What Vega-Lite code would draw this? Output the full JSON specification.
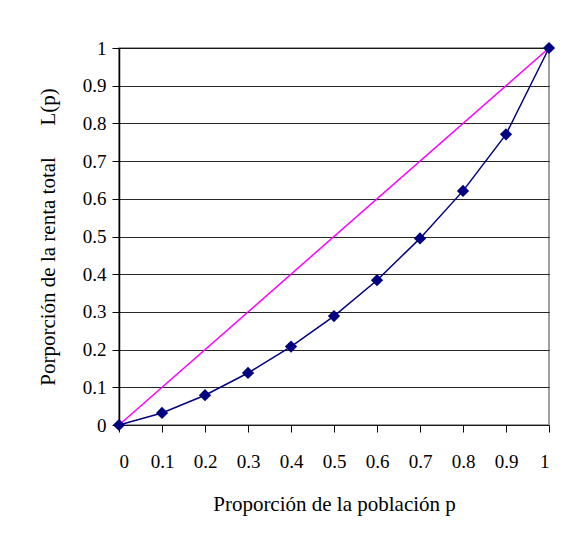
{
  "$schema": "https://vega.github.io/schema/vega-lite/v6.json",
  "width": 430,
  "height": 377,
  "autosize": "none",
  "padding": {"left": 119, "top": 48, "right": 22, "bottom": 111},
  "background": "white",
  "config": {
    "view": {"stroke": "#808080", "strokeWidth": 1.5},
    "font": "Liberation Serif",
    "axis": {"labelFont": "Liberation Serif", "titleFont": "Liberation Serif"}
  },
  "datasets": {
    "lorenz": [
      {"p": 0, "L": 0},
      {"p": 0.1, "L": 0.032},
      {"p": 0.2, "L": 0.079},
      {"p": 0.3, "L": 0.138},
      {"p": 0.4, "L": 0.208},
      {"p": 0.5, "L": 0.289},
      {"p": 0.6, "L": 0.384},
      {"p": 0.7, "L": 0.495},
      {"p": 0.8, "L": 0.621},
      {"p": 0.9, "L": 0.771},
      {"p": 1, "L": 1}
    ],
    "diag": [
      {"p": 0, "L": 0},
      {"p": 1, "L": 1}
    ]
  },
  "encoding": {
    "x": {
      "field": "p",
      "type": "quantitative",
      "scale": {"domain": [0, 1], "nice": false},
      "axis": {
        "values": [0, 0.1, 0.2, 0.3, 0.4, 0.5, 0.6, 0.7, 0.8, 0.9, 1],
        "format": "~g",
        "grid": false,
        "domain": false,
        "tickColor": "black",
        "tickSize": 7,
        "labelFont": "Liberation Serif",
        "labelFontSize": 19,
        "labelColor": "black",
        "labelPadding": 20,
        "title": "Proporción de la población p",
        "titleFont": "Liberation Serif",
        "titleFontWeight": "normal",
        "titleFontSize": 21,
        "titleColor": "black",
        "titlePadding": 22
      }
    },
    "y": {
      "field": "L",
      "type": "quantitative",
      "scale": {"domain": [0, 1], "nice": false},
      "axis": {
        "values": [0, 0.1, 0.2, 0.3, 0.4, 0.5, 0.6, 0.7, 0.8, 0.9, 1],
        "format": "~g",
        "grid": true,
        "gridColor": "black",
        "gridOpacity": 0.85,
        "gridWidth": 1,
        "domainColor": "black",
        "domainWidth": 1.5,
        "tickColor": "black",
        "tickSize": 7,
        "labelFont": "Liberation Serif",
        "labelFontSize": 19,
        "labelColor": "black",
        "labelPadding": 6,
        "title": "Porporción de la renta total\u00a0\u00a0\u00a0\u00a0\u00a0\u00a0L(p)",
        "titleFont": "Liberation Serif",
        "titleFontWeight": "normal",
        "titleFontSize": 21,
        "titleColor": "black",
        "titlePadding": 24
      }
    }
  },
  "layer": [
    {
      "data": {"name": "diag"},
      "mark": {"type": "line", "color": "#FF00FF", "strokeWidth": 1.5}
    },
    {
      "data": {"name": "lorenz"},
      "mark": {"type": "line", "color": "#000080", "strokeWidth": 1.5}
    },
    {
      "data": {"name": "lorenz"},
      "mark": {"type": "point", "shape": "diamond", "filled": true, "color": "#000080", "size": 150, "opacity": 1}
    }
  ]
}
